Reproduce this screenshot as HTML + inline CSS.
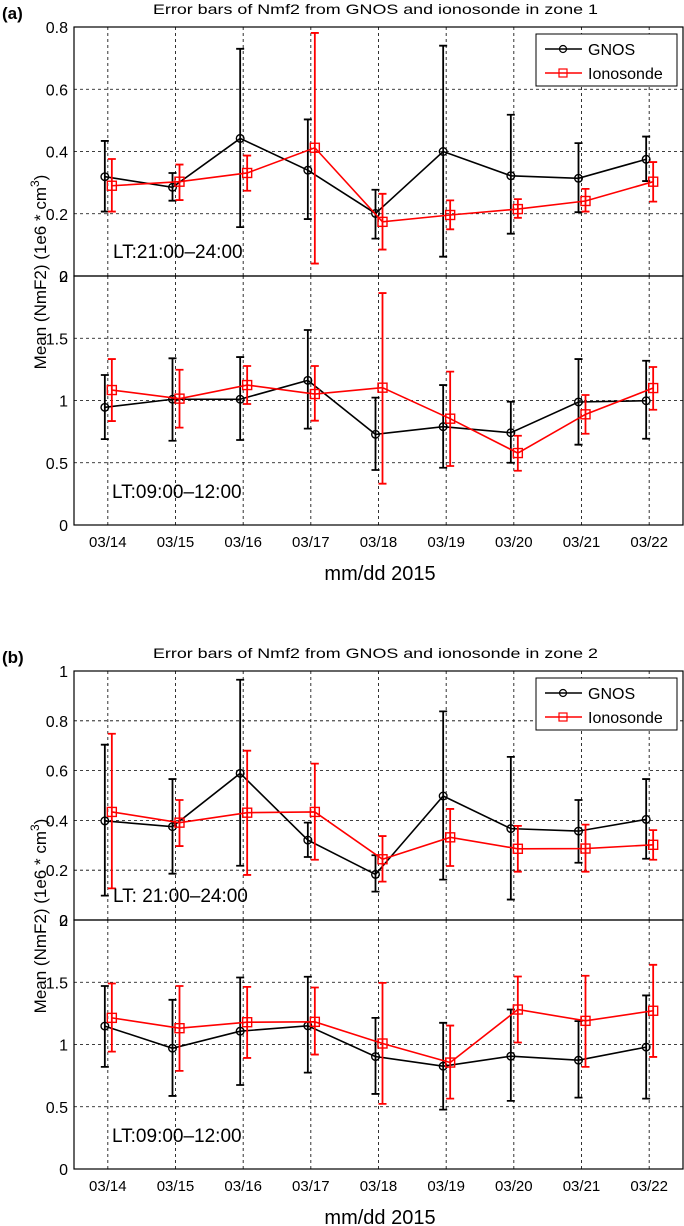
<!DOCTYPE html>
<html><head><meta charset="utf-8"><style>
html,body{margin:0;padding:0;background:#fff;}
svg{display:block;font-family:"Liberation Sans",Arial,sans-serif;}
</style></head><body>
<svg id="fig" width="684" height="1226" viewBox="0 0 684 1226" xmlns="http://www.w3.org/2000/svg"></svg>
<script>
const dates = ["03/14","03/15","03/16","03/17","03/18","03/19","03/20","03/21","03/22"];
const aTopG = [0.319,0.285,0.442,0.340,0.201,0.400,0.322,0.314,0.375];
const aTopGUp = [0.434,0.331,0.730,0.503,0.277,0.740,0.518,0.427,0.448];
const aTopGLo = [0.207,0.242,0.157,0.183,0.120,0.062,0.136,0.205,0.305];
const aTopI = [0.290,0.303,0.331,0.412,0.174,0.196,0.215,0.241,0.303];
const aTopIUp = [0.376,0.358,0.387,0.781,0.264,0.243,0.247,0.280,0.366];
const aTopILo = [0.207,0.244,0.274,0.040,0.085,0.150,0.187,0.207,0.239];
const aBotG = [0.945,1.010,1.010,1.162,0.728,0.790,0.741,0.988,0.998];
const aBotGUp = [1.205,1.339,1.349,1.566,1.023,1.124,0.990,1.333,1.319];
const aBotGLo = [0.690,0.677,0.683,0.774,0.442,0.460,0.500,0.645,0.693];
const aBotI = [1.084,1.015,1.124,1.052,1.103,0.854,0.578,0.889,1.100];
const aBotIUp = [1.333,1.247,1.277,1.277,1.863,1.232,0.717,1.044,1.269];
const aBotILo = [0.835,0.782,0.972,0.838,0.332,0.474,0.436,0.733,0.926];
const bTopG = [0.398,0.375,0.589,0.321,0.183,0.498,0.367,0.357,0.404];
const bTopGUp = [0.704,0.566,0.965,0.391,0.260,0.838,0.655,0.482,0.566];
const bTopGLo = [0.098,0.186,0.218,0.253,0.114,0.162,0.082,0.230,0.246];
const bTopI = [0.434,0.391,0.431,0.434,0.244,0.332,0.286,0.287,0.302];
const bTopIUp = [0.748,0.482,0.680,0.628,0.337,0.446,0.378,0.383,0.361];
const bTopILo = [0.127,0.297,0.181,0.242,0.154,0.217,0.194,0.194,0.242];
const bBotG = [1.148,0.970,1.107,1.150,0.903,0.826,0.906,0.874,0.979];
const bBotGUp = [1.470,1.359,1.538,1.544,1.214,1.174,1.281,1.188,1.394];
const bBotGLo = [0.820,0.587,0.675,0.774,0.603,0.477,0.547,0.573,0.565];
const bBotI = [1.214,1.131,1.179,1.182,1.008,0.855,1.281,1.190,1.271];
const bBotIUp = [1.490,1.470,1.463,1.458,1.495,1.152,1.546,1.552,1.640];
const bBotILo = [0.943,0.788,0.892,0.919,0.523,0.565,1.016,0.820,0.900];
const topTicksA = ["0","0.2","0.4","0.6","0.8"];
const topTicksB = ["0","0.2","0.4","0.6","0.8","1"];
const botTicks = ["0","0.5","1","1.5","2"];

const svg = document.getElementById('fig');
const NS = "http://www.w3.org/2000/svg";
function mk(tag, attrs, parent){const e=document.createElementNS(NS,tag);for(const k in attrs)e.setAttribute(k,attrs[k]);(parent||svg).appendChild(e);return e;}
const L=74,R=683;
function xs(i){return L+(i+0.5)/9*(R-L);}
function panelAxes(y0,y1,ymax,ticks,name){
  const g=mk('g',{});
  
  
  const ys=v=>y1-(v/ymax)*(y1-y0);
  ticks.forEach((t,k)=>{
    const v=parseFloat(t); const y=ys(v);
    if(v>0&&v<ymax){const gl=mk('line',{x1:L,x2:R,y1:y,y2:y,stroke:'#000','stroke-width':0.8,'stroke-dasharray':'3,3'},g);
      }
    const tx=mk('text',{x:L-6,y:y+6,'text-anchor':'end','font-size':16},g);tx.textContent=t;
    
  });
  dates.forEach((d,i)=>{const gl=mk('line',{x1:xs(i),x2:xs(i),y1:y0,y2:y1,stroke:'#000','stroke-width':0.8,'stroke-dasharray':'3,3'},g);
    });
  const f=mk('rect',{x:L,y:y0,width:R-L,height:y1-y0,fill:'none',stroke:'#000','stroke-width':1.2},g);
  
  return ys;
}
function series(ys,vals,up,lo,color,off,marker,name){
  const g=mk('g',{});
  
  
  const pts=vals.map((v,i)=>[xs(i)+off,ys(v)]);
  vals.forEach((v,i)=>{
    const x=pts[i][0];
    const eb=mk('path',{d:`M${x},${ys(up[i])}V${ys(lo[i])}M${x-4},${ys(up[i])}h8M${x-4},${ys(lo[i])}h8`,stroke:color,'stroke-width':1.8,fill:'none'},g);
    
  });
  const pl=mk('polyline',{points:pts.map(p=>p.join(',')).join(' '),fill:'none',stroke:color,'stroke-width':1.6},g);
  
  pts.forEach(p=>{
    let m;
    if(marker==='o') m=mk('circle',{cx:p[0],cy:p[1],r:3.8,fill:'none',stroke:color,'stroke-width':1.4},g);
    else m=mk('rect',{x:p[0]-4.5,y:p[1]-4.5,width:9,height:9,fill:'none',stroke:color,'stroke-width':1.4},g);
    
  });
}
function txt(x,y,s,attrs,name){const t=mk('text',Object.assign({x:x,y:y},attrs));t.textContent=s;return t;}
function legend(y){
  const g=mk('g',{});
  
  
  mk('rect',{x:536,y:y,width:141,height:52,fill:'#fff',stroke:'#000','stroke-width':1},g);
  mk('line',{x1:545,x2:582,y1:y+15,y2:y+15,stroke:'#000','stroke-width':1.6},g);
  mk('circle',{cx:563,cy:y+15,r:3.5,fill:'none',stroke:'#000','stroke-width':1.2},g);
  const t1=mk('text',{x:588,y:y+21,'font-size':16},g);t1.textContent='GNOS';
  
  mk('line',{x1:545,x2:582,y1:y+39,y2:y+39,stroke:'#f00','stroke-width':1.6},g);
  mk('rect',{x:559,y:y+35,width:8,height:8,fill:'none',stroke:'#f00','stroke-width':1.2},g);
  const t2=mk('text',{x:588,y:y+45,'font-size':16},g);t2.textContent='Ionosonde';
  
}
function panel(base,ymaxTop,topTicks,d,letter,zone,ltTop){
  const tT=base+27,mid=tT+249,bot=mid+249;
  txt(2,base+19,'('+letter+')',{'font-size':17,'font-weight':'bold'},'panel-label');
  txt(153,base+14,'Error bars of Nmf2 from GNOS and ionosonde in zone '+zone,{'font-size':14,textLength:445,lengthAdjust:'spacingAndGlyphs'},'chart-title');
  const ysT=panelAxes(tT,mid,ymaxTop,topTicks,'top-subplot');
  series(ysT,d[0],d[1],d[2],'#000',-3,'o','gnos-series-top');
  series(ysT,d[3],d[4],d[5],'#f00',4,'s','ionosonde-series-top');
  const ysB=panelAxes(mid,bot,2,botTicks,'bottom-subplot');
  series(ysB,d[6],d[7],d[8],'#000',-3,'o','gnos-series-bottom');
  series(ysB,d[9],d[10],d[11],'#f00',4,'s','ionosonde-series-bottom');
  legend(tT+7);
  txt(113,mid-18,ltTop,{'font-size':19},'time-range-label');
  txt(112,bot-27,'LT:09:00\u201312:00',{'font-size':19},'time-range-label');
  dates.forEach((s,i)=>txt(xs(i),bot+22,s,{'font-size':15,'text-anchor':'middle'},'x-tick-label'));
  txt(380,bot+55,'mm/dd 2015',{'font-size':20,'text-anchor':'middle'},'x-axis-title');
  const yl=mk('text',{x:0,y:0,'font-size':17,'text-anchor':'middle',transform:`translate(46,${mid-4}) rotate(-90)`});
  yl.innerHTML='Mean (NmF2) (1e6 * cm<tspan dy="-7" font-size="12">3</tspan><tspan dy="7">)</tspan>';
  
}
panel(0,0.8,topTicksA,[aTopG,aTopGUp,aTopGLo,aTopI,aTopIUp,aTopILo,aBotG,aBotGUp,aBotGLo,aBotI,aBotIUp,aBotILo],'a',1,'LT:21:00\u201324:00');
panel(644,1,topTicksB,[bTopG,bTopGUp,bTopGLo,bTopI,bTopIUp,bTopILo,bBotG,bBotGUp,bBotGLo,bBotI,bBotIUp,bBotILo],'b',2,'LT: 21:00\u201324:00');
</script>
</body></html>
